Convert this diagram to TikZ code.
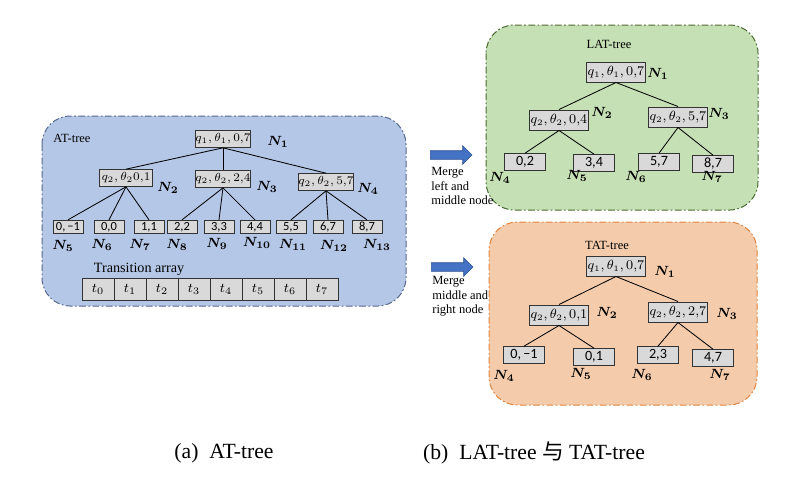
\documentclass[tikz,border=0pt]{standalone}
\usepackage{fontspec}
\setmainfont{Liberation Serif}
\newfontfamily\cjk{Noto Sans CJK SC}
\newfontfamily\leaffont{Carlito}
\usepackage{bm}
\usetikzlibrary{shapes.arrows}
\definecolor{atfill}{HTML}{B4C7E7}
\definecolor{atline}{HTML}{56698F}
\definecolor{latfill}{HTML}{C5E0B4}
\definecolor{latline}{HTML}{4B6B2E}
\definecolor{tatfill}{HTML}{F4CCAC}
\definecolor{tatline}{HTML}{E0853F}
\definecolor{boxgray}{HTML}{D9D9D9}
\definecolor{arrowblue}{HTML}{4472C4}
\definecolor{arrowline}{HTML}{2F528F}
\tikzset{
	frame/.style={
			rounded corners=17pt,
			line width=0.6pt,
			dash pattern=on 4pt off 1.5pt on 1pt off 1.5pt
		},
	atframe/.style={
			frame,
			draw=atline,
			fill=atfill
		},
	latframe/.style={
			frame,
			draw=latline,
			fill=latfill
		},
	tatframe/.style={
			frame,
			draw=tatline,
			fill=tatfill
		},
	treenode/.style={
			draw=black!80,
			fill=boxgray,
			line width=0.6pt,
			inner sep=0pt
		},
	midnode/.style={
			treenode,
			minimum width=32pt,
			minimum height=10pt
		},
	leafnode/.style={
			treenode,
			font=\leaffont\fontsize{7.5}{9}\selectfont,
			minimum width=18pt,
			minimum height=8pt
		},
	bigmidnode/.style={
			treenode,
			font=\fontsize{7.6}{9}\selectfont,
			minimum width=35pt,
			minimum height=12pt
		},
	bigleafnode/.style={
			treenode,
			font=\leaffont\fontsize{8.5}{9}\selectfont,
			minimum width=25pt,
			minimum height=10pt
		},
	cellnode/.style={
			treenode,
			font=\fontsize{8.5}{9}\selectfont,
			minimum width=19.2pt,
			minimum height=13.2pt
		},
	namenode/.style={
			inner sep=0pt,
			font=\fontsize{8.5}{9}\selectfont
		},
	link/.style={
			draw=black,
			line width=0.5pt
		},
	mergearrow/.style={
			single arrow,
			draw=arrowline,
			fill=arrowblue,
			line width=0.4pt,
			inner sep=2.4pt,
			minimum height=25pt,
			single arrow head extend=3pt
		}
}
\begin{document}
\begin{tikzpicture}[x=0.6pt, y=-0.6pt, font=\fontsize{7.5}{9}\selectfont]
\useasboundingbox (0,0) rectangle (796,476);

% AT-tree
\draw[atframe] (42,116) rectangle (406,306);
\node (attitle) at (72,138) {AT-tree};
\node[midnode] (a1) at (223,139) {$q_1,\theta_1,0{,}7$};
\node[midnode] (a2) at (126,178) {$q_2,\theta_2 0{,}1$};
\node[midnode] (a3) at (223,179) {$q_2,\theta_2,2{,}4$};
\node[midnode] (a4) at (326,182) {$q_2,\theta_2,5{,}7$};
\node[leafnode] (a5) at (68,227) {0,\,−1};
\node[leafnode] (a6) at (109,227) {0,0};
\node[leafnode] (a7) at (149,227) {1,1};
\node[leafnode] (a8) at (182,227) {2,2};
\node[leafnode] (a9) at (219,227) {3,3};
\node[leafnode] (a10) at (255,227) {4,4};
\node[leafnode] (a11) at (291,227) {5,5};
\node[leafnode] (a12) at (328,227) {6,7};
\node[leafnode] (a13) at (367,227) {8,7};

\node[namenode] (na1) at (278,142) {$\bm{N_1}$};
\node[namenode] (na2) at (168,188) {$\bm{N_2}$};
\node[namenode] (na3) at (267,187) {$\bm{N_3}$};
\node[namenode] (na4) at (368,189) {$\bm{N_4}$};
\node[namenode] (na5) at (63,246) {$\bm{N_5}$};
\node[namenode] (na6) at (102,245) {$\bm{N_6}$};
\node[namenode] (na7) at (140,245) {$\bm{N_7}$};
\node[namenode] (na8) at (177,245) {$\bm{N_8}$};
\node[namenode] (na9) at (217,244) {$\bm{N_9}$};
\node[namenode] (na10) at (257,243) {$\bm{N_{10}}$};
\node[namenode] (na11) at (293,245) {$\bm{N_{11}}$};
\node[namenode] (na12) at (334,246) {$\bm{N_{12}}$};
\node[namenode] (na13) at (377,245) {$\bm{N_{13}}$};

\foreach \c in {a2,a3,a4} \draw[link] (a1.south) -- (\c.north);
\foreach \c in {a5,a6,a7} \draw[link] (a2.south) -- (\c.north);
\foreach \c in {a8,a9,a10} \draw[link] (a3.south) -- (\c.north);
\foreach \c in {a11,a12,a13} \draw[link] (a4.south) -- (\c.north);

\node[anchor=west, font=\fontsize{8.5}{9}\selectfont] (trans) at (88,269) {Transition array};
\foreach \i in {0,...,7}
	\node[cellnode] (t\i) at ({98+32*\i},289) {$t_{\i}$};

% LAT-tree
\draw[latframe] (486,25) rectangle (758,210);
\node (lattitle) at (609,44) {LAT-tree};
\node[bigmidnode] (l1) at (616,72) {$q_1,\theta_1,0{,}7$};
\node[bigmidnode] (l2) at (559,120) {$q_2,\theta_2,0{,}4$};
\node[bigmidnode] (l3) at (678,117) {$q_2,\theta_2,5{,}7$};
\node[bigleafnode] (l4) at (525,162) {0,2};
\node[bigleafnode] (l5) at (594,163) {3,4};
\node[bigleafnode] (l6) at (659,162) {5,7};
\node[bigleafnode] (l7) at (713,164) {8,7};

\node[namenode] (nl1) at (658,74) {$\bm{N_1}$};
\node[namenode] (nl2) at (602,113) {$\bm{N_2}$};
\node[namenode] (nl3) at (719,114) {$\bm{N_3}$};
\node[namenode] (nl4) at (500,178) {$\bm{N_4}$};
\node[namenode] (nl5) at (577,176) {$\bm{N_5}$};
\node[namenode] (nl6) at (636,177) {$\bm{N_6}$};
\node[namenode] (nl7) at (712,177) {$\bm{N_7}$};

\foreach \c in {l2,l3} \draw[link] (l1.south) -- (\c.north);
\foreach \c in {l4,l5} \draw[link] (l2.south) -- (\c.north);
\foreach \c in {l6,l7} \draw[link] (l3.south) -- (\c.north);

\node[mergearrow] (m1) at (449,155) {};
\node[anchor=north west, align=left, inner sep=0pt,
	font=\fontsize{7.5}{8.7}\selectfont] (m1text) at (431,167) {Merge\\left and\\middle node};

% TAT-tree
\draw[tatframe] (489,222) rectangle (757,405);
\node (tattitle) at (607,245) {TAT-tree};
\node[bigmidnode] (r1) at (616,266) {$q_1,\theta_1,0{,}7$};
\node[bigmidnode] (r2) at (559,315) {$q_2,\theta_2,0{,}1$};
\node[bigmidnode] (r3) at (678,312) {$q_2,\theta_2,2{,}7$};
\node[bigleafnode] (r4) at (524,355) {0,\,−1};
\node[bigleafnode] (r5) at (594,357) {0,1};
\node[bigleafnode] (r6) at (658,355) {2,3};
\node[bigleafnode] (r7) at (713,358) {4,7};

\node[namenode] (nr1) at (665,272) {$\bm{N_1}$};
\node[namenode] (nr2) at (607,313) {$\bm{N_2}$};
\node[namenode] (nr3) at (727,314) {$\bm{N_3}$};
\node[namenode] (nr4) at (504,376) {$\bm{N_4}$};
\node[namenode] (nr5) at (581,374) {$\bm{N_5}$};
\node[namenode] (nr6) at (642,375) {$\bm{N_6}$};
\node[namenode] (nr7) at (720,375) {$\bm{N_7}$};

\foreach \c in {r2,r3} \draw[link] (r1.south) -- (\c.north);
\foreach \c in {r4,r5} \draw[link] (r2.south) -- (\c.north);
\foreach \c in {r6,r7} \draw[link] (r3.south) -- (\c.north);

\node[mergearrow] (m2) at (450,267) {};
\node[anchor=north west, align=left, inner sep=0pt,
	font=\fontsize{7.5}{8.7}\selectfont] (m2text) at (432,276) {Merge\\middle and\\right node};

% captions
\node[font=\fontsize{13}{15}\selectfont] (capa) at (224,453) {(a)\enspace AT-tree};
\node[font=\fontsize{13}{15}\selectfont] (capb) at (534,453) {(b)\enspace LAT-tree {\cjk 与} TAT-tree};
\end{tikzpicture}
\end{document}
